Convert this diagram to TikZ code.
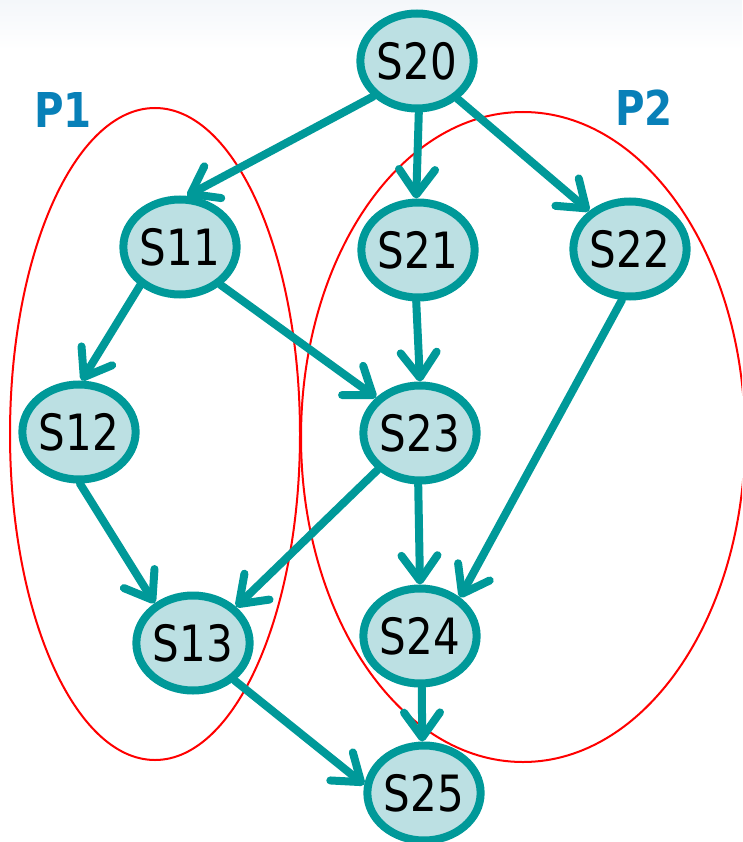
\documentclass[tikz,border=0pt]{standalone}
\usepackage{fontspec}
\setmainfont{DejaVu Sans}[FakeStretch=0.84]
\usetikzlibrary{shapes.geometric,arrows.meta,backgrounds}
\definecolor{tealline}{RGB}{0,153,153}
\definecolor{nodefill}{RGB}{188,224,227}
\definecolor{partblue}{RGB}{8,128,184}
\definecolor{hazeblue}{RGB}{244,247,250}
\begin{document}
\begin{tikzpicture}[x=1pt,y=-1pt,
  stnode/.style={ellipse, draw=tealline, fill=nodefill, line width=8pt,
    minimum width=109pt, minimum height=95pt, inner sep=0pt,
    font=\fontsize{50}{54}\selectfont},
  link/.style={draw=tealline, line width=8pt, line cap=round,
    -{Straight Barb[length=25pt,width=36pt,round]}},
  part/.style={draw=red, line width=2pt},
  partlabel/.style={text=partblue, font=\fontsize{48}{52}\selectfont\bfseries}]
  \useasboundingbox (0,0) rectangle (742,842);
  \begin{scope}
    \clip (0,0) rectangle (742,842);
    % faint haze along the top edge
    \fill[top color=hazeblue, bottom color=white, draw=none] (0,0) rectangle (742,50);
    % partitions
    \draw[part] (155,434) ellipse [x radius=145, y radius=326];
    \draw[part] (523,437) ellipse [x radius=222, y radius=325];
  \end{scope}
  \node[partlabel] (p1) at (63,110) {P1};
  \node[partlabel] (p2) at (644,108) {P2};

  % states
  \node[stnode] (s20) at (417,61)  {S20};
  \node[stnode] (s11) at (180,247) {S11};
  \node[stnode] (s21) at (418,250) {S21};
  \node[stnode] (s22) at (630,249) {S22};
  \node[stnode] (s12) at (79,432)  {S12};
  \node[stnode] (s23) at (420,433) {S23};
  \node[stnode] (s13) at (193,643) {S13};
  \node[stnode] (s24) at (420,636) {S24};
  \node[stnode] (s25) at (424,793) {S25};

  % precedence edges
  \draw[link] (s20.-141) -- (s11.82);
  \draw[link] (s20.-88)  -- (s21.92);
  \draw[link] (s20.-43)  -- (s22.137);
  \draw[link] (s11.-136) -- (s12.87);
  \draw[link] (s11.-43)  -- (s23.141);
  \draw[link] (s21.-92)  -- (s23.90);
  \draw[link] (s22.-99)  -- (s24.44);
  \draw[link] (s12.-89)  -- (s13.134);
  \draw[link] (s23.-139) -- (s13.40);
  \draw[link] (s23.-92)  -- (s24.90);
  \draw[link] (s13.-42)  -- (s25.172);
  \draw[link] (s24.-88)  -- (s25.92);
\end{tikzpicture}
\end{document}
